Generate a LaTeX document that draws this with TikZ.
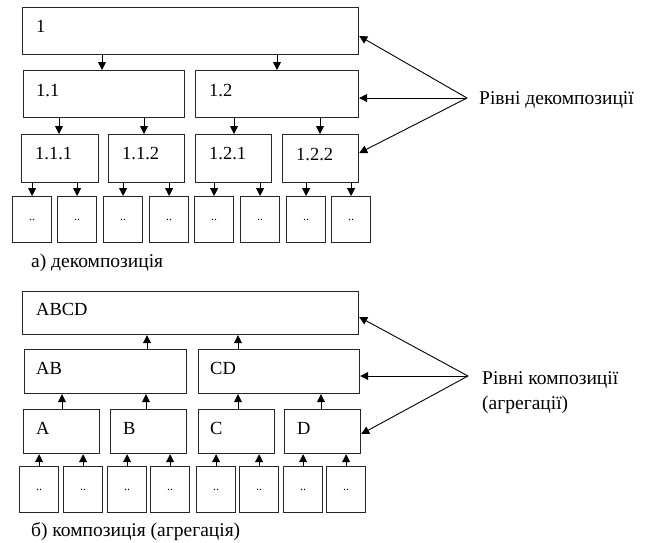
\documentclass[tikz,border=0pt]{standalone}
\usepackage{fontspec}
\setmainfont{Liberation Serif}
\usetikzlibrary{arrows.meta}
\begin{document}
\begin{tikzpicture}[x=1pt,y=-1pt,
  box/.style={draw=black!85,line width=1.2pt,inner sep=0pt,anchor=north west},
  txt/.style={anchor=base west,inner sep=0pt,font=\fontsize{18.5}{22}\selectfont},
  captxt/.style={anchor=base west,inner sep=0pt,font=\fontsize{19.5}{23}\selectfont},
  dots/.style={inner sep=0pt,font=\fontsize{12}{14}\selectfont},
  arr/.style={line width=0.9pt,-{Triangle[width=8pt,length=8pt]}}]
\useasboundingbox (0,0) rectangle (645,542);
% ---------- part a ----------
\node[box,minimum width=336pt,minimum height=47pt] (b1) at (22,7) {};
\node[box,minimum width=161pt,minimum height=47pt] (b11) at (23,70) {};
\node[box,minimum width=163pt,minimum height=47pt] (b12) at (195,70) {};
\node[box,minimum width=77pt,minimum height=48pt] (b111) at (21,134) {};
\node[box,minimum width=76pt,minimum height=48pt] (b112) at (108,134) {};
\node[box,minimum width=76pt,minimum height=48pt] (b121) at (195,134) {};
\node[box,minimum width=76pt,minimum height=48pt] (b122) at (282,134) {};
\foreach \i/\x in {1/12,2/57,3/103,4/149,5/194,6/240,7/286,8/331}{
  \node[box,minimum width=39pt,minimum height=46pt] (a\i) at (\x,196) {};
  \node[dots] (ad\i) at (a\i.center) {..};
}
\node[txt] (t1) at (36,32) {1};
\node[txt] (t11) at (36,96) {1.1};
\node[txt] (t12) at (209,96) {1.2};
\node[txt] (t111) at (35,159) {1.1.1};
\node[txt] (t112) at (122,159) {1.1.2};
\node[txt] (t121) at (209,159) {1.2.1};
\node[txt] (t122) at (296,160) {1.2.2};
\draw[arr] (b1.south -| 102,0) -- (b11.north -| 102,0);
\draw[arr] (b1.south -| 277,0) -- (b12.north -| 277,0);
\draw[arr] (b11.south -| 59,0) -- (b111.north -| 59,0);
\draw[arr] (b11.south -| 144,0) -- (b112.north -| 144,0);
\draw[arr] (b12.south -| 234,0) -- (b121.north -| 234,0);
\draw[arr] (b12.south -| 320,0) -- (b122.north -| 320,0);
\draw[arr] (b111.south -| a1.north) -- (a1.north);
\draw[arr] (b111.south -| a2.north) -- (a2.north);
\draw[arr] (b112.south -| a3.north) -- (a3.north);
\draw[arr] (b112.south -| a4.north) -- (a4.north);
\draw[arr] (b121.south -| a5.north) -- (a5.north);
\draw[arr] (b121.south -| a6.north) -- (a6.north);
\draw[arr] (b122.south -| a7.north) -- (a7.north);
\draw[arr] (b122.south -| a8.north) -- (a8.north);
\coordinate (pa) at (467,98);
\draw[arr] (pa) -- (b1.east |- 0,36);
\draw[arr] (pa) -- (b12.east |- 0,98);
\draw[arr] (pa) -- (b122.east |- 0,153);
\node[captxt] (la) at (479,104) {Рівні декомпозиції};
\node[captxt] (ca) at (31,267) {а) декомпозиція};
% ---------- part b ----------
\node[box,minimum width=336pt,minimum height=43pt] (c1) at (22,291) {};
\node[box,minimum width=162pt,minimum height=44pt] (cAB) at (24,349) {};
\node[box,minimum width=161pt,minimum height=44pt] (cCD) at (198,349) {};
\node[box,minimum width=76pt,minimum height=44pt] (cA) at (23,409) {};
\node[box,minimum width=76pt,minimum height=44pt] (cB) at (110,409) {};
\node[box,minimum width=76pt,minimum height=44pt] (cC) at (198,409) {};
\node[box,minimum width=76pt,minimum height=44pt] (cD) at (284,409) {};
\foreach \i/\x in {1/19,2/63,3/107,4/150,5/196,6/239,7/283,8/326}{
  \node[box,minimum width=39pt,minimum height=46pt] (d\i) at (\x,466) {};
  \node[dots] (dd\i) at (d\i.center) {..};
}
\node[txt] (tABCD) at (36,315) {ABCD};
\node[txt] (tAB) at (36,374) {AB};
\node[txt] (tCD) at (210,374) {CD};
\node[txt] (tA) at (36,434) {A};
\node[txt] (tB) at (123,434) {B};
\node[txt] (tC) at (210,434) {C};
\node[txt] (tD) at (297,434) {D};
\draw[arr] (cAB.north -| 147,0) -- (c1.south -| 147,0);
\draw[arr] (cCD.north -| 238,0) -- (c1.south -| 238,0);
\draw[arr] (cA.north -| 62,0) -- (cAB.south -| 62,0);
\draw[arr] (cB.north -| 146,0) -- (cAB.south -| 146,0);
\draw[arr] (cC.north -| 238,0) -- (cCD.south -| 238,0);
\draw[arr] (cD.north -| 321,0) -- (cCD.south -| 321,0);
\draw[arr] (d1.north) -- (cA.south -| d1.north);
\draw[arr] (d2.north) -- (cA.south -| d2.north);
\draw[arr] (d3.north) -- (cB.south -| d3.north);
\draw[arr] (d4.north) -- (cB.south -| d4.north);
\draw[arr] (d5.north) -- (cC.south -| d5.north);
\draw[arr] (d6.north) -- (cC.south -| d6.north);
\draw[arr] (d7.north) -- (cD.south -| d7.north);
\draw[arr] (d8.north) -- (cD.south -| d8.north);
\coordinate (pb) at (468,376);
\draw[arr] (pb) -- (c1.east |- 0,317);
\draw[arr] (pb) -- (cCD.east |- 0,376);
\draw[arr] (pb) -- (cD.east |- 0,434);
\node[captxt] (lb1) at (482,384) {Рівні композиції};
\node[captxt] (lb2) at (482,409) {(агрегації)};
\node[captxt] (cb) at (31,536) {б) композиція (агрегація)};
\end{tikzpicture}
\end{document}
